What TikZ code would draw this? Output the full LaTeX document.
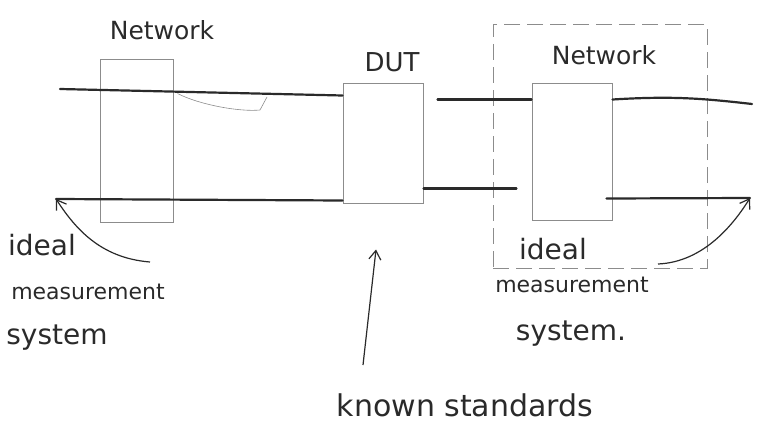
\documentclass[tikz,border=0pt]{standalone}
\usepackage{fontspec}
\setmainfont{DejaVu Sans}
\usetikzlibrary{arrows.meta,calc}
\definecolor{ink}{HTML}{2A2A2A}
\definecolor{pencil}{HTML}{8C8C8C}
\tikzset{
  box/.style={draw=pencil,line width=1pt,minimum width=#1,inner sep=0pt},
  sig/.style={draw=ink,line width=2.2pt,line cap=round},
  arr/.style={draw=ink,line width=1.2pt,-{Straight Barb[length=9pt,width=12pt]}},
  lab/.style={text=ink,inner sep=0pt,font=\fontsize{#1}{#1}\selectfont}
}
\begin{document}
\begin{tikzpicture}[x=1pt,y=-1pt]
\useasboundingbox (0,0) rectangle (757,436);
% boxes
\node[box=73pt,minimum height=162pt] (netL) at (136.5,141) {};
\node[box=80pt,minimum height=120pt] (dut) at (383,143) {};
\node[box=80pt,minimum height=137pt] (netR) at (572,151.5) {};
\node[box=214pt,minimum height=243pt,dashed,dash pattern=on 16pt off 7pt] (sys) at (600,146.5) {};
% labels
\node[lab=25] (tNetL) at (162,30) {Network};
\node[lab=26] (tDut) at (392,62) {DUT};
\node[lab=25] (tNetR) at (604,55) {Network};
\node[lab=28] (tIdealL) at (42,245) {ideal};
\node[lab=22] (tMeasL) at (88,292) {measurement};
\node[lab=28] (tSysL) at (57,338) {system};
\node[lab=28] (tIdealR) at (553,249) {ideal};
\node[lab=22] (tMeasR) at (572,285) {measurement};
\node[lab=28] (tSysR) at (571,334) {system.};
\node[lab=30] (tKnown) at (465,405) {known standards};
% free ends
\coordinate (inLT) at (60,89);
\coordinate (inLB) at (56,199);
\coordinate (outRT) at (752,104);
\coordinate (outRB) at (750,198);
\coordinate (aL) at (150,262);
\coordinate (aR) at (658,264);
\coordinate (aK) at (363,365);
% signal lines
\draw[sig] (inLT) -- ($(dut.north west)+(0,13)$);
\draw[sig] (inLB) -- ($(dut.south west)+(0,-3)$);
\draw[sig] ($(dut.north east)+(14,17)$) -- ($(netR.north west)+(0,17)$);
\draw[sig] ($(dut.south east)+(0,-15)$) -- ($(netR.south west)+(-15,-32)$);
\draw[sig] ($(netR.north east)+(0,17)$) .. controls (670,96) and (700,98) .. (outRT);
\draw[sig] ($(netR.south east)+(-6,-22)$) -- (outRB);
% pencil scribble
\draw[pencil,line width=0.6pt] ($(netL.north east)+(4,34)$) .. controls (200,105) and (240,112) .. (260,110) -- (267,97);
% arrows
\draw[arr] (aL) .. controls (100,258) and (75,228) .. (inLB);
\draw[arr] (aR) .. controls (705,262) and (735,222) .. (outRB);
\draw[arr] (aK) -- ($(dut.south)+(-7,46)$);
\end{tikzpicture}
\end{document}
